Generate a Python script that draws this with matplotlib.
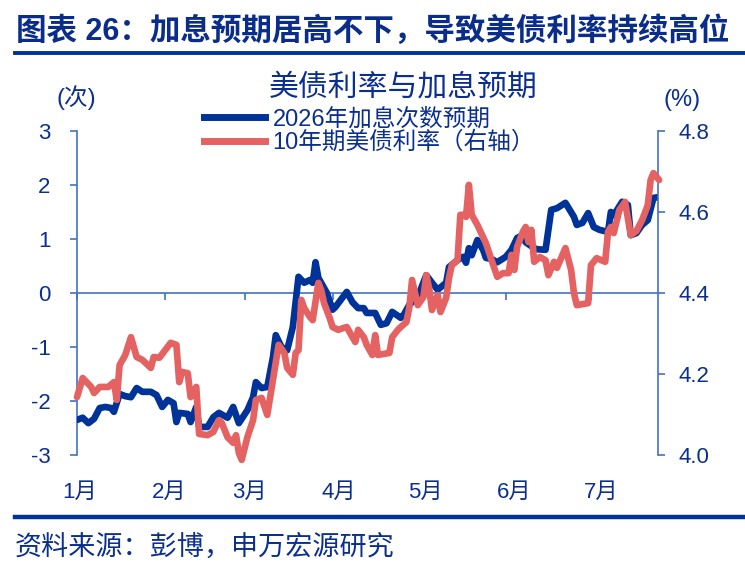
import matplotlib
matplotlib.use('Agg')
import matplotlib.pyplot as plt
import matplotlib.transforms as mtransforms
from matplotlib.lines import Line2D

plt.rcParams['font.family'] = ['Liberation Sans', 'Noto Sans CJK SC']
plt.rcParams['axes.unicode_minus'] = False

# ---- data (days counted from 1 Jan) ----
hike_days = [0, 2, 4, 6, 8, 10, 12, 13, 15, 17, 19, 21, 23, 26, 28, 30, 32, 34, 35, 36,
             39, 40, 42, 43, 46, 48, 50, 53, 55, 57, 60, 62, 63, 65, 67, 69, 70, 72, 74, 76,
             78, 80, 82, 83, 84, 85, 88, 90, 91, 95, 97, 99, 101, 102, 105, 107, 109, 111, 114, 115,
             117, 120, 123, 125, 127, 130, 131, 134, 136, 137, 138, 139, 141, 143, 144, 146, 148, 151, 153, 155,
             157, 158, 161, 162, 165, 167, 169, 172, 175, 176, 178, 180, 182, 184, 187, 188, 189, 192, 194, 195,
             197, 199, 201, 203, 205]
hike_values = [-2.35, -2.31, -2.41, -2.33, -2.13, -2.11, -2.13, -2.20, -1.87, -1.91, -1.93, -1.76, -1.83, -1.83, -1.89, -2.11, -1.98, -2.04, -2.39, -2.22,
               -2.24, -2.39, -2.11, -2.48, -2.48, -2.30, -2.22, -2.31, -2.11, -2.41, -2.17, -1.93, -1.65, -1.76, -1.74, -1.19, -0.78, -1.00, -1.06, -0.63,
               0.30, 0.19, 0.24, 0.19, 0.57, 0.28, 0.00, -0.31, -0.26, 0.02, -0.17, -0.28, -0.28, -0.37, -0.37, -0.59, -0.56, -0.35, -0.46, -0.41,
               -0.22, -0.07, 0.33, 0.19, 0.06, 0.19, 0.48, 0.61, 0.67, 0.56, 0.83, 0.70, 0.98, 0.80, 0.65, 0.63, 0.57, 0.67, 0.80, 1.02,
               1.07, 0.94, 0.83, 0.81, 0.80, 1.54, 1.57, 1.67, 1.41, 1.26, 1.30, 1.48, 1.22, 1.17, 1.13, 1.50, 1.44, 1.69, 1.63, 1.07,
               1.11, 1.26, 1.35, 1.76, 1.78]

yield_days = [0, 2, 5, 6, 8, 11, 13, 14, 15, 17, 19, 21, 23, 26, 27, 29, 33, 35, 36, 37,
              39, 40, 42, 43, 46, 48, 50, 51, 53, 55, 56, 57, 58, 60, 62, 63, 65, 67, 69, 71,
              73, 74, 76, 77, 78, 79, 80, 82, 83, 85, 86, 87, 89, 90, 92, 94, 95, 97, 98, 99,
              101, 102, 104, 105, 106, 110, 111, 113, 114, 116, 117, 118, 120, 122, 123, 124, 125, 127, 128, 130,
              131, 132, 134, 135, 136, 137, 138, 139, 141, 144, 146, 148, 150, 152, 153, 154, 155, 157, 158, 159,
              160, 161, 163, 165, 166, 168, 169, 172, 174, 175, 176, 180, 181, 183, 186, 187, 188, 189, 191, 193,
              195, 197, 199, 201, 202, 203, 205]
yield_values = [4.143, 4.190, 4.168, 4.153, 4.168, 4.168, 4.180, 4.136, 4.222, 4.247, 4.291, 4.242, 4.235, 4.215, 4.242, 4.240, 4.277, 4.272, 4.180, 4.205,
                4.202, 4.143, 4.168, 4.052, 4.049, 4.057, 4.086, 4.079, 4.044, 4.030, 4.049, 4.005, 3.988, 4.044, 4.086, 4.136, 4.141, 4.099, 4.185, 4.272,
                4.252, 4.215, 4.198, 4.252, 4.259, 4.383, 4.363, 4.341, 4.333, 4.425, 4.407, 4.375, 4.338, 4.316, 4.309, 4.314, 4.316, 4.291, 4.279, 4.309,
                4.291, 4.272, 4.247, 4.296, 4.247, 4.252, 4.291, 4.309, 4.316, 4.328, 4.363, 4.432, 4.370, 4.390, 4.444, 4.412, 4.358, 4.395, 4.353, 4.388,
                4.437, 4.469, 4.481, 4.593, 4.593, 4.588, 4.667, 4.593, 4.568, 4.523, 4.481, 4.440, 4.449, 4.449, 4.494, 4.457, 4.514, 4.551, 4.563, 4.526,
                4.556, 4.477, 4.489, 4.481, 4.444, 4.477, 4.462, 4.511, 4.457, 4.400, 4.370, 4.375, 4.469, 4.486, 4.477, 4.551, 4.563, 4.548, 4.605, 4.625,
                4.543, 4.553, 4.580, 4.617, 4.679, 4.696, 4.679]

month_starts = [0, 31, 59, 90, 120, 151, 181]
month_labels = ['1月', '2月', '3月', '4月', '5月', '6月', '7月']
left_ticks = [-3, -2, -1, 0, 1, 2, 3]
right_ticks = [4.0, 4.2, 4.4, 4.6, 4.8]
series_names = ['2026年加息次数预期', '10年期美债利率（右轴）']

NAVY = '#0B2F8F'
AXIS = '#4472C4'
BLUE = '#003399'
RED = '#E46262'

W, H = 745, 568
fig = plt.figure(figsize=(W / 100, H / 100), dpi=100)
ax = fig.add_axes([77 / W, 1 - 455 / H, 581 / W, 324 / H])
ax2 = ax.twinx()

ax.plot(hike_days, hike_values, color=BLUE, lw=4.8, solid_joinstyle='round',
        solid_capstyle='round', zorder=3)
ax2.plot(yield_days, yield_values, color=RED, lw=4.8, solid_joinstyle='round',
         solid_capstyle='round', clip_on=False, zorder=3)

ax.set_xlim(0, 204.6)
ax.set_ylim(-3, 3)
ax2.set_ylim(4.0, 4.8)

for s in ['top', 'right']:
    ax.spines[s].set_visible(False)
for s in ['top', 'left', 'bottom']:
    ax2.spines[s].set_visible(False)
ax.spines['left'].set_color(AXIS)
ax.spines['bottom'].set_color(AXIS)
ax.spines['bottom'].set_position(('data', 0))
ax2.spines['right'].set_color(AXIS)
for sp in [ax.spines['left'], ax.spines['bottom'], ax2.spines['right']]:
    sp.set_linewidth(1.2)

ax.set_xticks(month_starts)
ax.set_xticklabels([''] * len(month_starts))
ax.tick_params(axis='x', direction='out', length=5, width=1.2, color=AXIS)

ax.set_yticks(left_ticks)
ax.set_yticklabels([str(v) for v in left_ticks])
ax.tick_params(axis='y', direction='out', length=5, width=1.2, color=AXIS,
               labelcolor=NAVY, labelsize=16, pad=14)
ax2.set_yticks(right_ticks)
ax2.set_yticklabels([f'{v:.1f}' for v in right_ticks])
ax2.tick_params(axis='y', direction='out', length=5, width=1.2, color=AXIS,
                labelcolor=NAVY, labelsize=16, pad=10)

trans = mtransforms.blended_transform_factory(ax.transData, ax.transAxes)
for d, lab in zip(month_starts, month_labels):
    ax.text(d + 1 + 0.014 * d, -0.114, lab, transform=trans, ha='center', va='center',
            fontsize=16, color=NAVY, clip_on=False)

# texts
fig.text(16 / W, 1 - 32 / H, '图表 26：加息预期居高不下，导致美债利率持续高位',
         fontsize=22, fontweight='bold', color='#0A2D8C', ha='left', va='center')
fig.add_artist(Line2D([15 / W, 1], [1 - 52.5 / H] * 2, color='#003399', lw=2.8,
                      transform=fig.transFigure))
fig.text(403 / W, 1 - 88 / H, '美债利率与加息预期', fontsize=21.5, color=NAVY,
         ha='center', va='center')
fig.text(76 / W, 1 - 98 / H, '(次)', fontsize=17, color=NAVY, ha='center', va='center')
fig.text(682 / W, 1 - 100 / H, '(%)', fontsize=17, color=NAVY, ha='center', va='center')

handles = [Line2D([], [], color=BLUE, lw=5), Line2D([], [], color=RED, lw=5)]
fig.legend(handles, series_names, loc='upper left',
           bbox_to_anchor=(204 / W, 1 - 108 / H), bbox_transform=fig.transFigure,
           frameon=False, fontsize=17, handlelength=2.6, handletextpad=0.3,
           labelspacing=0.05, borderpad=0, borderaxespad=0, labelcolor=NAVY)

fig.add_artist(Line2D([15 / W, 1], [1 - 517 / H] * 2, color='#003399', lw=3.2,
                      transform=fig.transFigure))
fig.text(15 / W, 1 - 548 / H, '资料来源：彭博，申万宏源研究', fontsize=19.5,
         color=NAVY, ha='left', va='center')

fig.savefig('out.png', dpi=100)
